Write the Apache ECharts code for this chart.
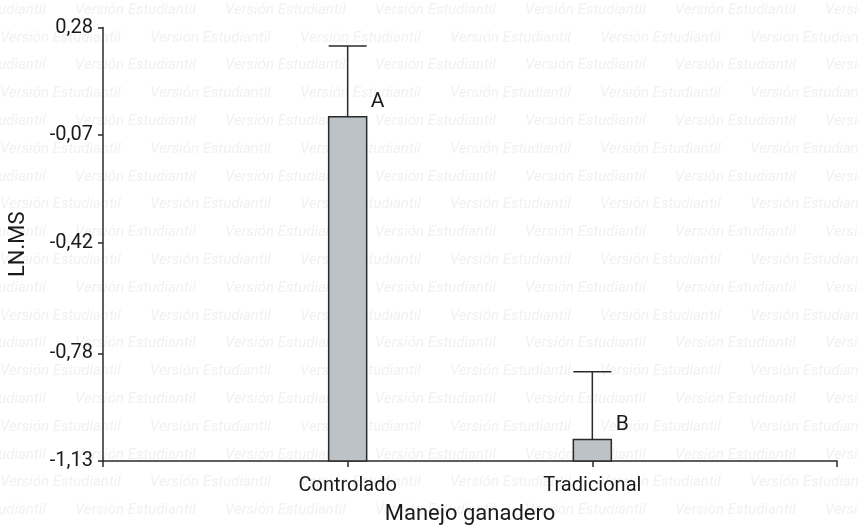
<!DOCTYPE html>
<html>
<head>
<meta charset="utf-8">
<script src="https://cdn.jsdelivr.net/npm/echarts@6/dist/echarts.min.js"></script>
<style>html,body{margin:0;padding:0;background:#fff;}#c{width:859px;height:526px;}</style>
</head>
<body>
<div id="c"></div>
<script>
const categories = ['Controlado', 'Tradicional'];
const means = [-0.01, -1.06];
const errUpper = [0.22, -0.84];
const letters = ['A', 'B'];
const yTicks = [-1.13, -0.78, -0.42, -0.07, 0.28];
const Y_MIN = -1.13, Y_MAX = 0.28;

const FONT = 'Roboto';
const chart = echarts.init(document.getElementById('c'), null, {renderer: 'canvas'});

// watermark
const wm = [];
for (let r = 0; r < 19; r++) {
  const y = 10 + r * 27.8;
  const off = r % 2 === 0 ? 75 : 0;
  for (let k = -1; k < 7; k++) {
    wm.push({
      type: 'text', silent: true, z: -10,
      x: off + 150 * k, y: y,
      style: {text: 'Versión Estudiantil', fill: '#f1f1f1', font: 'italic 15px Roboto', textVerticalAlign: 'middle'}
    });
  }
}

const data = categories.map((c, i) => [c, means[i], errUpper[i], letters[i]]);

chart.setOption({
  animation: false,
  backgroundColor: '#fff',
  graphic: wm,
  grid: {left: 103, right: 22, top: 27.5, bottom: 65, containLabel: false, outerBoundsMode: 'none'},
  xAxis: {
    type: 'category',
    data: [''].concat(categories, ['']),
    boundaryGap: false,
    name: 'Manejo ganadero',
    nameLocation: 'middle',
    nameGap: 42,
    nameTextStyle: {fontFamily: FONT, fontSize: 22, color: '#1a1a1a'},
    axisLine: {onZero: false, lineStyle: {color: '#2a2a2a', width: 1.5}},
    axisTick: {show: true, length: 6, interval: 0, lineStyle: {color: '#2a2a2a', width: 1.5}},
    axisLabel: {fontFamily: FONT, fontSize: 20, color: '#1a1a1a', margin: 15, interval: 0},
    splitLine: {show: false}
  },
  yAxis: {
    type: 'value',
    min: Y_MIN, max: Y_MAX,
    name: 'LN.MS',
    nameLocation: 'middle',
    nameGap: 74,
    nameRotate: 90,
    nameTextStyle: {fontFamily: FONT, fontSize: 22, color: '#1a1a1a'},
    axisLine: {show: true, onZero: false, lineStyle: {color: '#2a2a2a', width: 1.5}},
    axisTick: {show: true, length: 5, customValues: yTicks, lineStyle: {color: '#2a2a2a', width: 1.5}},
    axisLabel: {
      customValues: yTicks, fontFamily: FONT, fontSize: 20, color: '#1a1a1a', margin: 10,
      formatter: v => v.toFixed(2).replace('.', ',')
    },
    splitLine: {show: false}
  },
  series: [{
    type: 'custom',
    data: data,
    encode: {x: 0, y: [1, 2]},
    clip: false,
    renderItem: function (params, api) {
      const cat = api.value(0);
      const top = api.coord([cat, api.value(1)]);
      const base = api.coord([cat, Y_MIN]);
      const err = api.coord([cat, api.value(2)]);
      const w = 38;
      const idx = params.dataIndex;
      return {
        type: 'group',
        children: [
          {type: 'rect', shape: {x: top[0] - w / 2, y: top[1], width: w, height: base[1] - top[1]},
           style: {fill: '#bcc2c5', stroke: '#2a2a2a', lineWidth: 1.5}},
          {type: 'line', shape: {x1: top[0], y1: top[1], x2: top[0], y2: err[1]},
           style: {stroke: '#2a2a2a', lineWidth: 1.5}},
          {type: 'line', shape: {x1: top[0] - w / 2, y1: err[1], x2: top[0] + w / 2, y2: err[1]},
           style: {stroke: '#2a2a2a', lineWidth: 1.5}},
          {type: 'text', x: top[0] + 30, y: top[1] - 15,
           style: {text: letters[idx], font: '21px Roboto', fill: '#1a1a1a', textAlign: 'center', textVerticalAlign: 'middle'}}
        ]
      };
    }
  }]
});
</script>
</body>
</html>
